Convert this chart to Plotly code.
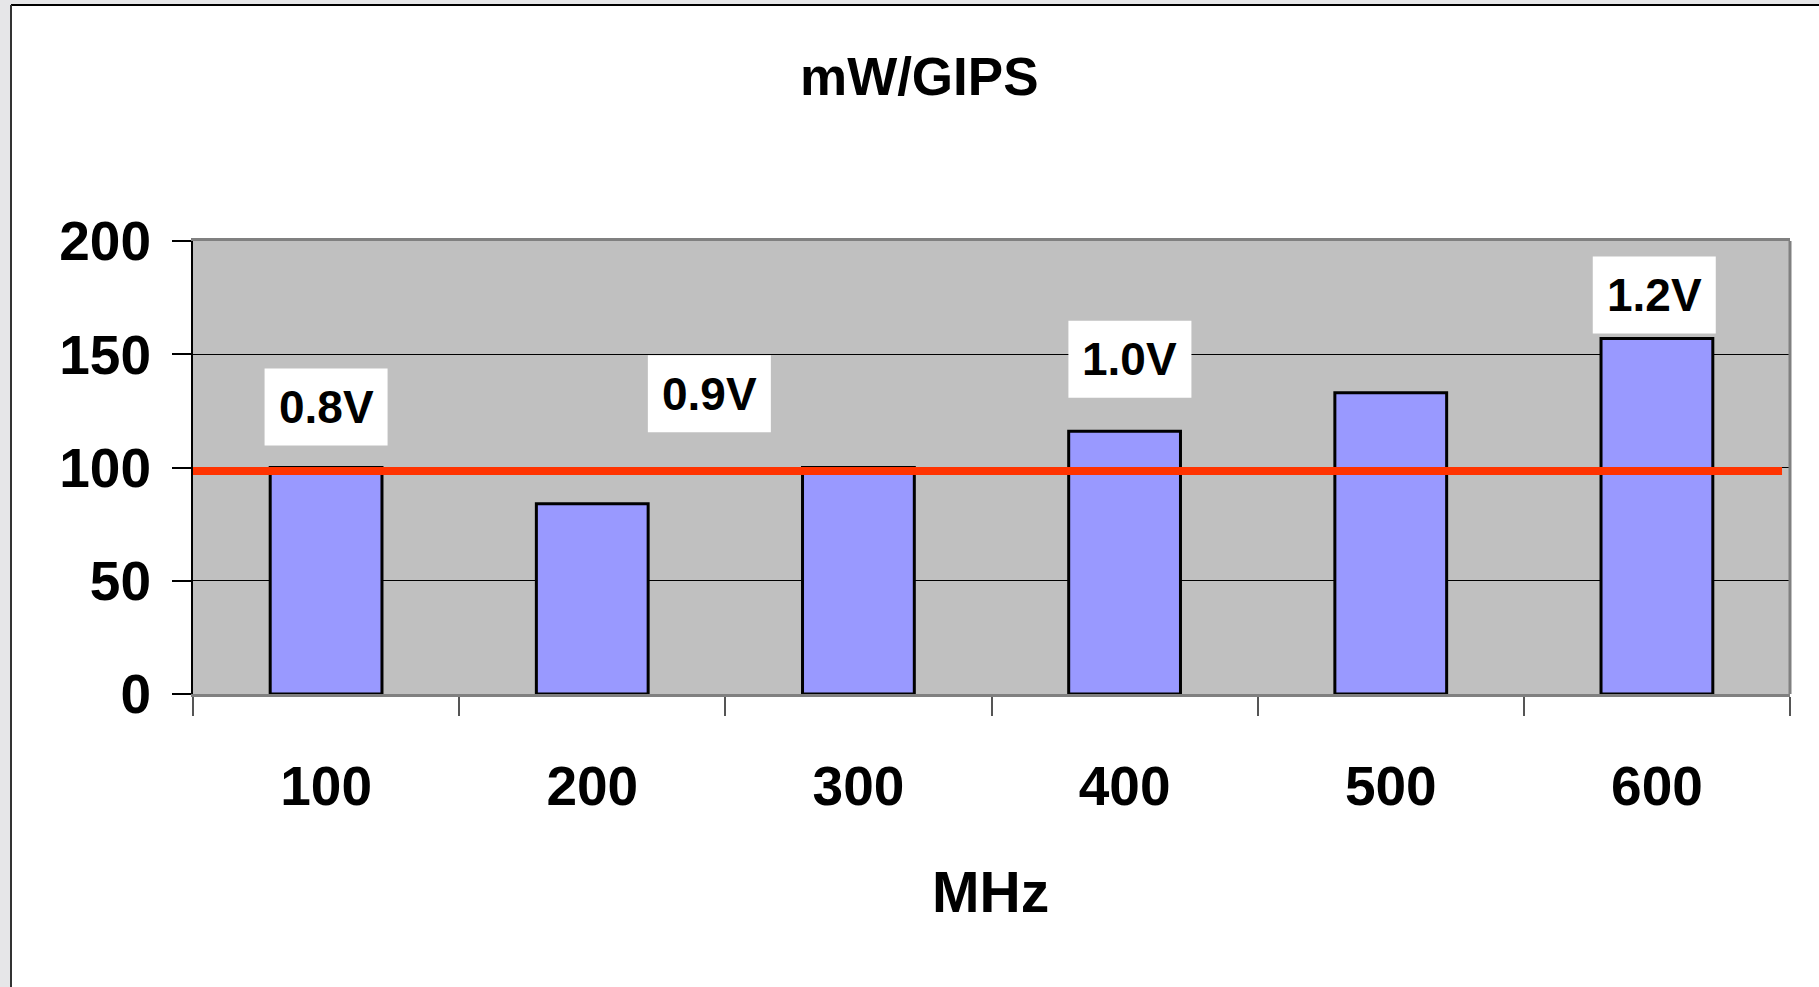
import plotly.graph_objects as go

# ---- data ----
categories = ["100", "200", "300", "400", "500", "600"]
mw_per_gips = [100, 84, 100, 116, 133, 157]
reference_level = 98.5
voltage_labels = ["0.8V", "0.9V", "1.0V", "1.2V"]
y_ticks = [0, 50, 100, 150, 200]

# ---- label placement (axis units) ----
label_x = [0.0, 1.44, 3.02, 4.99]
label_y = [126.7, 132.6, 147.8, 176.2]

FONT = "Liberation Sans, Arial, Helvetica, sans-serif"
W, H = 1819, 987
L, R, T, B = 193, 29, 241, 293
pw = W - L - R
ph = H - T - B

xs = list(range(len(categories)))


def px_x(p):
    return (p - L) / pw


def px_y(p):
    # p measured from top of the page
    return (H - p - B) / ph


fig = go.Figure()
fig.add_trace(go.Bar(
    x=xs, y=mw_per_gips, width=0.42,
    marker=dict(color="#9999FF", line=dict(color="black", width=3)),
    showlegend=False, hoverinfo="skip",
))
fig.add_trace(go.Scatter(
    x=[-0.5, 5.47], y=[reference_level, reference_level], mode="lines",
    line=dict(color="#FF3300", width=8), showlegend=False, hoverinfo="skip",
))

annotations = []
shapes = [
    # grey surroundings of the slide (left and top strips)
    dict(type="rect", xref="paper", yref="paper", layer="below",
         x0=px_x(-5), x1=px_x(11), y0=px_y(-5), y1=px_y(H + 5),
         fillcolor="#E6E6E8", line=dict(width=0)),
    dict(type="rect", xref="paper", yref="paper", layer="below",
         x0=px_x(-5), x1=px_x(W + 5), y0=px_y(-5), y1=px_y(5),
         fillcolor="#E6E6E8", line=dict(width=0)),
    # slide borders
    dict(type="line", xref="paper", yref="paper", layer="below",
         x0=px_x(11), x1=px_x(W + 5), y0=px_y(5), y1=px_y(5),
         line=dict(color="black", width=2)),
    dict(type="line", xref="paper", yref="paper", layer="below",
         x0=px_x(11), x1=px_x(11), y0=px_y(5), y1=px_y(H + 5),
         line=dict(color="#333333", width=2)),
    # right border of plot area
    dict(type="line", xref="x domain", yref="y domain",
         x0=1, x1=1, y0=0, y1=1, line=dict(color="#808080", width=3)),
]

for t, lx, ly in zip(voltage_labels, label_x, label_y):
    shapes.append(dict(
        type="rect", xref="x", yref="y", layer="above",
        xsizemode="pixel", ysizemode="pixel", xanchor=lx, yanchor=ly,
        x0=-61.5, x1=61.5, y0=-38.5, y1=38.5,
        fillcolor="white", line=dict(width=0),
    ))
    annotations.append(dict(
        x=lx, y=ly, xref="x", yref="y", text=t, showarrow=False,
        font=dict(family=FONT, size=46, color="black", weight="bold"),
        xanchor="center", yanchor="middle",
    ))

annotations.append(dict(
    x=px_x(919), y=px_y(77), xref="paper", yref="paper", text="mW/GIPS",
    showarrow=False,
    font=dict(family=FONT, size=53, color="black", weight="bold"),
    xanchor="center", yanchor="middle",
))
annotations.append(dict(
    x=px_x(990), y=px_y(892), xref="paper", yref="paper", text="MHz",
    showarrow=False,
    font=dict(family=FONT, size=57, color="black", weight="bold"),
    xanchor="center", yanchor="middle",
))

fig.update_layout(
    width=W, height=H,
    margin=dict(l=L, r=R, t=T, b=B, pad=0),
    paper_bgcolor="white",
    plot_bgcolor="#C0C0C0",
    annotations=annotations,
    shapes=shapes,
    xaxis=dict(
        range=[-0.5, 5.5], tickvals=xs, ticktext=categories, ticks="",
        tickfont=dict(family=FONT, size=55, color="black", weight="bold"),
        ticklabelstandoff=42,
        showgrid=False, zeroline=False,
        showline=True, linecolor="#808080", linewidth=3, mirror=True,
        minor=dict(ticks="outside", tick0=-0.5, dtick=1, ticklen=19,
                   tickcolor="#555555", tickwidth=1.5, showgrid=False),
        fixedrange=True,
    ),
    yaxis=dict(
        range=[0, 200], tickvals=y_ticks, ticks="outside", ticklen=19,
        tickcolor="black", tickwidth=1.5,
        tickfont=dict(family=FONT, size=55, color="black", weight="bold"),
        ticklabelstandoff=10,
        showgrid=True, gridcolor="black", gridwidth=1,
        zeroline=False,
        showline=True, linecolor="black", linewidth=2,
        fixedrange=True,
    ),
)

fig.write_html("out.html")
